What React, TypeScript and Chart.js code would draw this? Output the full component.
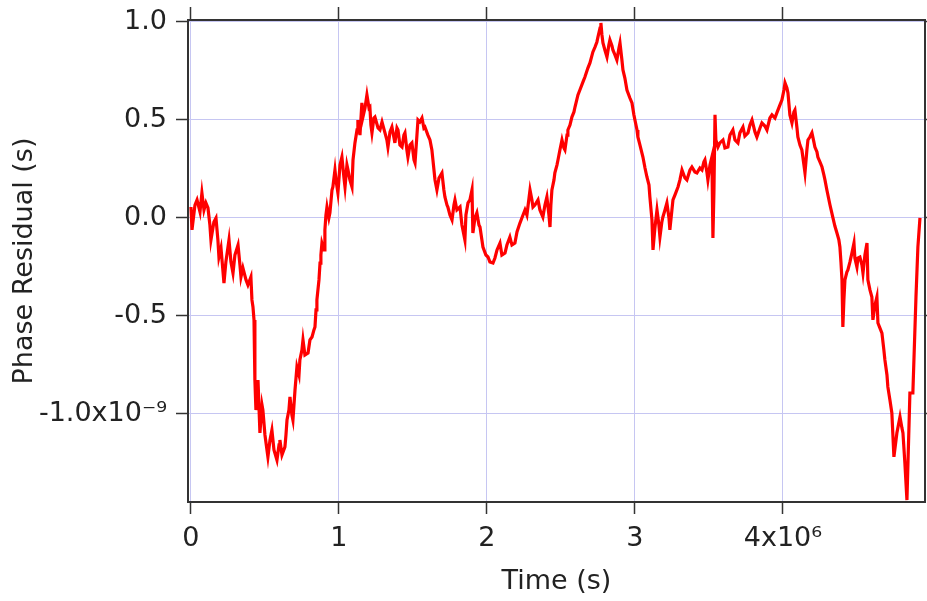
import React, { useEffect, useRef } from 'react';
import { Chart, registerables } from 'chart.js';

Chart.register(...registerables);

// Time in units of 10^6 s
const timeMega = [
  0.000, 0.007, 0.027, 0.041, 0.061, 0.074, 0.088, 0.101, 0.115, 0.128, 0.135, 0.155, 0.169, 0.182, 0.189, 0.203,
  0.223, 0.236, 0.257, 0.270, 0.284, 0.297, 0.318, 0.331, 0.338, 0.351, 0.372, 0.385, 0.405, 0.412, 0.419,
  0.426, 0.432, 0.439, 0.453, 0.466, 0.480, 0.486, 0.500, 0.520, 0.534, 0.547, 0.561, 0.581, 0.595, 0.601, 0.615,
  0.635, 0.642, 0.649, 0.662, 0.669, 0.682, 0.689, 0.703, 0.716, 0.730, 0.736, 0.750, 0.757, 0.770, 0.791, 0.804,
  0.818, 0.831, 0.838, 0.845, 0.851, 0.865, 0.872, 0.878, 0.885, 0.899, 0.905, 0.912, 0.919, 0.932, 0.939, 0.953,
  0.959, 0.973, 0.980, 0.993, 1.007, 1.020, 1.034, 1.041, 1.054, 1.061, 1.074, 1.088, 1.095, 1.108, 1.122, 1.128,
  1.142, 1.155, 1.162, 1.176, 1.189, 1.203, 1.209, 1.216, 1.223, 1.236, 1.243, 1.264, 1.277, 1.291, 1.311, 1.324,
  1.331, 1.345, 1.358, 1.372, 1.378, 1.392, 1.399, 1.412, 1.426, 1.439, 1.446, 1.459, 1.466, 1.480, 1.493, 1.507,
  1.514, 1.527, 1.534, 1.547, 1.561, 1.574, 1.581, 1.601, 1.615, 1.628, 1.635, 1.649, 1.662, 1.676, 1.696, 1.709,
  1.716, 1.730, 1.736, 1.750, 1.764, 1.777, 1.784, 1.797, 1.818, 1.831, 1.851, 1.858, 1.872, 1.885, 1.899, 1.905,
  1.919, 1.932, 1.946, 1.953, 1.966, 1.973, 1.993, 2.007, 2.020, 2.041, 2.054, 2.068, 2.088, 2.101, 2.122, 2.135,
  2.155, 2.169, 2.189, 2.203, 2.223, 2.236, 2.257, 2.270, 2.291, 2.304, 2.311, 2.324, 2.345, 2.358, 2.378, 2.392,
  2.405, 2.419, 2.426, 2.432, 2.439, 2.453, 2.459, 2.473, 2.480, 2.493, 2.507, 2.520, 2.527, 2.541, 2.547, 2.561,
  2.574, 2.588, 2.595, 2.615, 2.628, 2.649, 2.662, 2.682, 2.696, 2.716, 2.730, 2.743, 2.750, 2.764, 2.770, 2.777,
  2.784, 2.797, 2.811, 2.824, 2.831, 2.845, 2.851, 2.865, 2.878, 2.892, 2.899, 2.912, 2.919, 2.932, 2.946, 2.966,
  2.980, 2.993, 3.000, 3.014, 3.020, 3.034, 3.054, 3.068, 3.081, 3.095, 3.101, 3.115, 3.122, 3.135, 3.149, 3.162,
  3.169, 3.182, 3.189, 3.203, 3.216, 3.230, 3.236, 3.250, 3.257, 3.270, 3.291, 3.304, 3.318, 3.338, 3.351, 3.372,
  3.385, 3.405, 3.419, 3.439, 3.453, 3.466, 3.473, 3.486, 3.493, 3.507, 3.520, 3.527, 3.534, 3.541, 3.547, 3.561,
  3.574, 3.595, 3.608, 3.628, 3.642, 3.662, 3.676, 3.696, 3.709, 3.730, 3.743, 3.764, 3.777, 3.791, 3.811, 3.824,
  3.845, 3.858, 3.878, 3.892, 3.912, 3.926, 3.946, 3.959, 3.980, 3.993, 4.007, 4.014, 4.027, 4.034, 4.047, 4.061,
  4.074, 4.081, 4.095, 4.101, 4.115, 4.128, 4.142, 4.149, 4.162, 4.169, 4.182, 4.196, 4.209, 4.216, 4.230, 4.236,
  4.250, 4.264, 4.277, 4.284, 4.297, 4.318, 4.338, 4.351, 4.365, 4.378, 4.385, 4.392, 4.399, 4.405, 4.412, 4.419,
  4.432, 4.439, 4.453, 4.466, 4.480, 4.486, 4.500, 4.507, 4.520, 4.534, 4.541, 4.554, 4.568, 4.574, 4.588, 4.601,
  4.608, 4.622, 4.635, 4.642, 4.655, 4.669, 4.682, 4.689, 4.703, 4.709, 4.723, 4.736, 4.750, 4.770, 4.791, 4.804,
  4.811, 4.824, 4.838, 4.858, 4.878, 4.899, 4.912, 4.926,
];

// Phase residual in units of 10^-9 s
const residualNano = [
  0.056, -0.061, 0.066, 0.092, 0.031, 0.128, 0.041, 0.077, 0.051, -0.036, -0.112, -0.020, 0.000, -0.112, -0.199, -0.153,
  -0.332, -0.224, -0.112, -0.224, -0.281, -0.189, -0.138, -0.240, -0.301, -0.255, -0.316, -0.342, -0.301, -0.418, -0.454,
  -0.520, -0.827, -0.980, -0.827, -1.097, -0.954, -0.980, -1.107, -1.219, -1.133, -1.082, -1.184, -1.235, -1.158, -1.133, -1.209,
  -1.168, -1.107, -1.031, -0.980, -0.913, -1.005, -1.031, -0.878, -0.760, -0.801, -0.724, -0.673, -0.622, -0.699, -0.689, -0.622,
  -0.607, -0.571, -0.556, -0.469, -0.418, -0.316, -0.230, -0.189, -0.128, -0.163, -0.061, 0.015, 0.056, 0.000, 0.026, 0.143,
  0.158, 0.245, 0.194, 0.128, 0.270, 0.311, 0.204, 0.158, 0.270, 0.245, 0.194, 0.158, 0.296, 0.383, 0.449, 0.500,
  0.423, 0.587, 0.515, 0.561, 0.628, 0.561, 0.566, 0.474, 0.434, 0.510, 0.515, 0.459, 0.449, 0.490, 0.434, 0.398,
  0.362, 0.439, 0.464, 0.408, 0.383, 0.459, 0.449, 0.372, 0.362, 0.423, 0.434, 0.347, 0.311, 0.372, 0.383, 0.296,
  0.281, 0.423, 0.500, 0.490, 0.510, 0.459, 0.464, 0.423, 0.398, 0.347, 0.296, 0.194, 0.143, 0.204, 0.230, 0.143,
  0.107, 0.066, 0.056, 0.015, -0.010, 0.066, 0.092, 0.041, 0.056, -0.036, -0.112, 0.015, 0.077, 0.092, 0.143, -0.077,
  0.000, 0.026, -0.036, -0.046, -0.112, -0.148, -0.189, -0.199, -0.224, -0.230, -0.204, -0.163, -0.128, -0.189, -0.179, -0.138,
  -0.097, -0.138, -0.128, -0.071, -0.026, 0.000, 0.041, 0.015, 0.143, 0.092, 0.056, 0.066, 0.092, 0.041, 0.005, 0.066,
  0.107, 0.015, -0.046, 0.066, 0.143, 0.194, 0.230, 0.270, 0.296, 0.347, 0.398, 0.357, 0.347, 0.423, 0.449, 0.474,
  0.515, 0.541, 0.566, 0.628, 0.653, 0.694, 0.719, 0.765, 0.791, 0.847, 0.872, 0.898, 0.923, 0.969, 0.995, 0.934,
  0.893, 0.857, 0.821, 0.883, 0.908, 0.878, 0.857, 0.832, 0.806, 0.867, 0.893, 0.806, 0.755, 0.714, 0.653, 0.612,
  0.587, 0.526, 0.500, 0.449, 0.413, 0.372, 0.311, 0.255, 0.209, 0.168, 0.107, -0.010, -0.163, -0.051, 0.041, -0.036,
  -0.097, -0.020, 0.005, 0.041, 0.077, 0.000, -0.061, 0.041, 0.092, 0.117, 0.158, 0.194, 0.245, 0.204, 0.194, 0.245,
  0.260, 0.235, 0.230, 0.255, 0.245, 0.286, 0.296, 0.235, 0.194, 0.270, 0.311, -0.102, 0.143, 0.526, 0.398, 0.362,
  0.383, 0.398, 0.357, 0.362, 0.423, 0.449, 0.398, 0.383, 0.434, 0.464, 0.418, 0.434, 0.474, 0.500, 0.439, 0.413,
  0.459, 0.485, 0.469, 0.449, 0.510, 0.526, 0.510, 0.536, 0.577, 0.602, 0.653, 0.689, 0.663, 0.638, 0.526, 0.485,
  0.541, 0.551, 0.459, 0.413, 0.372, 0.347, 0.270, 0.230, 0.347, 0.398, 0.413, 0.434, 0.388, 0.362, 0.337, 0.311,
  0.286, 0.260, 0.219, 0.194, 0.143, 0.066, 0.000, -0.041, -0.077, -0.112, -0.148, -0.224, -0.316, -0.556, -0.418, -0.316,
  -0.276, -0.265, -0.224, -0.179, -0.128, -0.204, -0.250, -0.204, -0.199, -0.240, -0.281, -0.189, -0.128, -0.316, -0.367, -0.403,
  -0.520, -0.444, -0.403, -0.536, -0.561, -0.587, -0.673, -0.724, -0.801, -0.862, -0.929, -0.995, -1.219, -1.097, -1.015, -1.071,
  -1.097, -1.250, -1.439, -0.893, -0.893, -0.403, -0.148, 0.000,
];

const xTickValues = [0, 1, 2, 3, 4];
const xTickLabels = ['0', '1', '2', '3', '4x10\u2076'];
const yTickValues = [1.0, 0.5, 0.0, -0.5, -1.0];
const yTickLabels = ['1.0', '0.5', '0.0', '-0.5', '-1.0x10\u207B\u2079'];

const xTitle = 'Time (s)';
const yTitle = 'Phase Residual (s)';

const FONT = 'DejaVu Sans, Verdana, sans-serif';
const AXIS = '#333333';
const GRID = '#c6c6f2';

function noPad(s: any) {
  s.paddingTop = 0;
  s.paddingBottom = 0;
  s.paddingLeft = 0;
  s.paddingRight = 0;
}

export default function App() {
  const canvasRef = useRef<HTMLCanvasElement | null>(null);

  useEffect(() => {
    const canvas = canvasRef.current;
    if (!canvas) return;
    const points = timeMega.map((t, i) => ({ x: t, y: residualNano[i] }));
    const xTicks = (s: any) => {
      s.ticks = xTickValues.map((v) => ({ value: v }));
    };
    const yTicks = (s: any) => {
      s.ticks = yTickValues.map((v) => ({ value: v }));
    };
    const chart = new Chart(canvas, {
      type: 'line',
      data: {
        datasets: [
          {
            data: points,
            borderColor: '#ff0000',
            borderWidth: 3.2,
            pointRadius: 0,
            tension: 0,
            fill: false,
          },
        ],
      },
      options: {
        animation: false,
        responsive: false,
        devicePixelRatio: 1,
        layout: { padding: { top: 20, right: 0, left: 0, bottom: 0 } },
        plugins: { legend: { display: false }, tooltip: { enabled: false } },
        scales: {
          x: {
            type: 'linear',
            position: 'bottom',
            min: -0.02,
            max: 4.96,
            afterBuildTicks: xTicks,
            afterFit: (s: any) => {
              s.height = 99;
              noPad(s);
            },
            ticks: {
              callback: (_v: any, i: number) => xTickLabels[i],
              font: { family: FONT, size: 27 },
              color: '#222',
              padding: 9,
              maxRotation: 0,
              autoSkip: false,
            },
            grid: { color: GRID, lineWidth: 1, tickColor: AXIS, tickLength: 12, tickWidth: 1.5 },
            border: { color: AXIS, width: 2 },
            title: {
              display: true,
              text: xTitle,
              font: { family: FONT, size: 27 },
              color: '#222',
              padding: { top: 0, bottom: 3 },
            },
          },
          xTop: {
            type: 'linear',
            position: 'top',
            min: -0.02,
            max: 4.96,
            afterBuildTicks: xTicks,
            afterFit: (s: any) => {
              s.height = 0;
              noPad(s);
            },
            ticks: { display: false },
            grid: { drawOnChartArea: false, tickColor: AXIS, tickLength: 13, tickWidth: 1.5 },
            border: { color: AXIS, width: 2 },
          },
          y: {
            type: 'linear',
            position: 'left',
            min: -1.449,
            max: 1.01,
            afterBuildTicks: yTicks,
            afterFit: (s: any) => {
              s.width = 188;
              noPad(s);
            },
            ticks: {
              callback: (_v: any, i: number) => yTickLabels[i],
              font: { family: FONT, size: 27 },
              color: '#222',
              padding: 9,
              autoSkip: false,
            },
            grid: { color: GRID, lineWidth: 1, tickColor: AXIS, tickLength: 12, tickWidth: 1.5 },
            border: { color: AXIS, width: 2 },
            title: {
              display: true,
              text: yTitle,
              font: { family: FONT, size: 27 },
              color: '#222',
              padding: { top: 9, bottom: 0 },
            },
          },
          yRight: {
            type: 'linear',
            position: 'right',
            min: -1.449,
            max: 1.01,
            afterBuildTicks: yTicks,
            afterFit: (s: any) => {
              s.width = 2;
              noPad(s);
            },
            ticks: { display: false },
            grid: { drawOnChartArea: false, tickColor: AXIS, tickLength: 8, tickWidth: 1.5 },
            border: { color: AXIS, width: 2 },
          },
        },
      },
    });
    return () => chart.destroy();
  }, []);

  return (
    <div style={{ position: 'absolute', left: 0, top: 0, width: 927, height: 601, background: '#fff' }}>
      <canvas ref={canvasRef} width={927} height={601} style={{ display: 'block' }} />
    </div>
  );
}
